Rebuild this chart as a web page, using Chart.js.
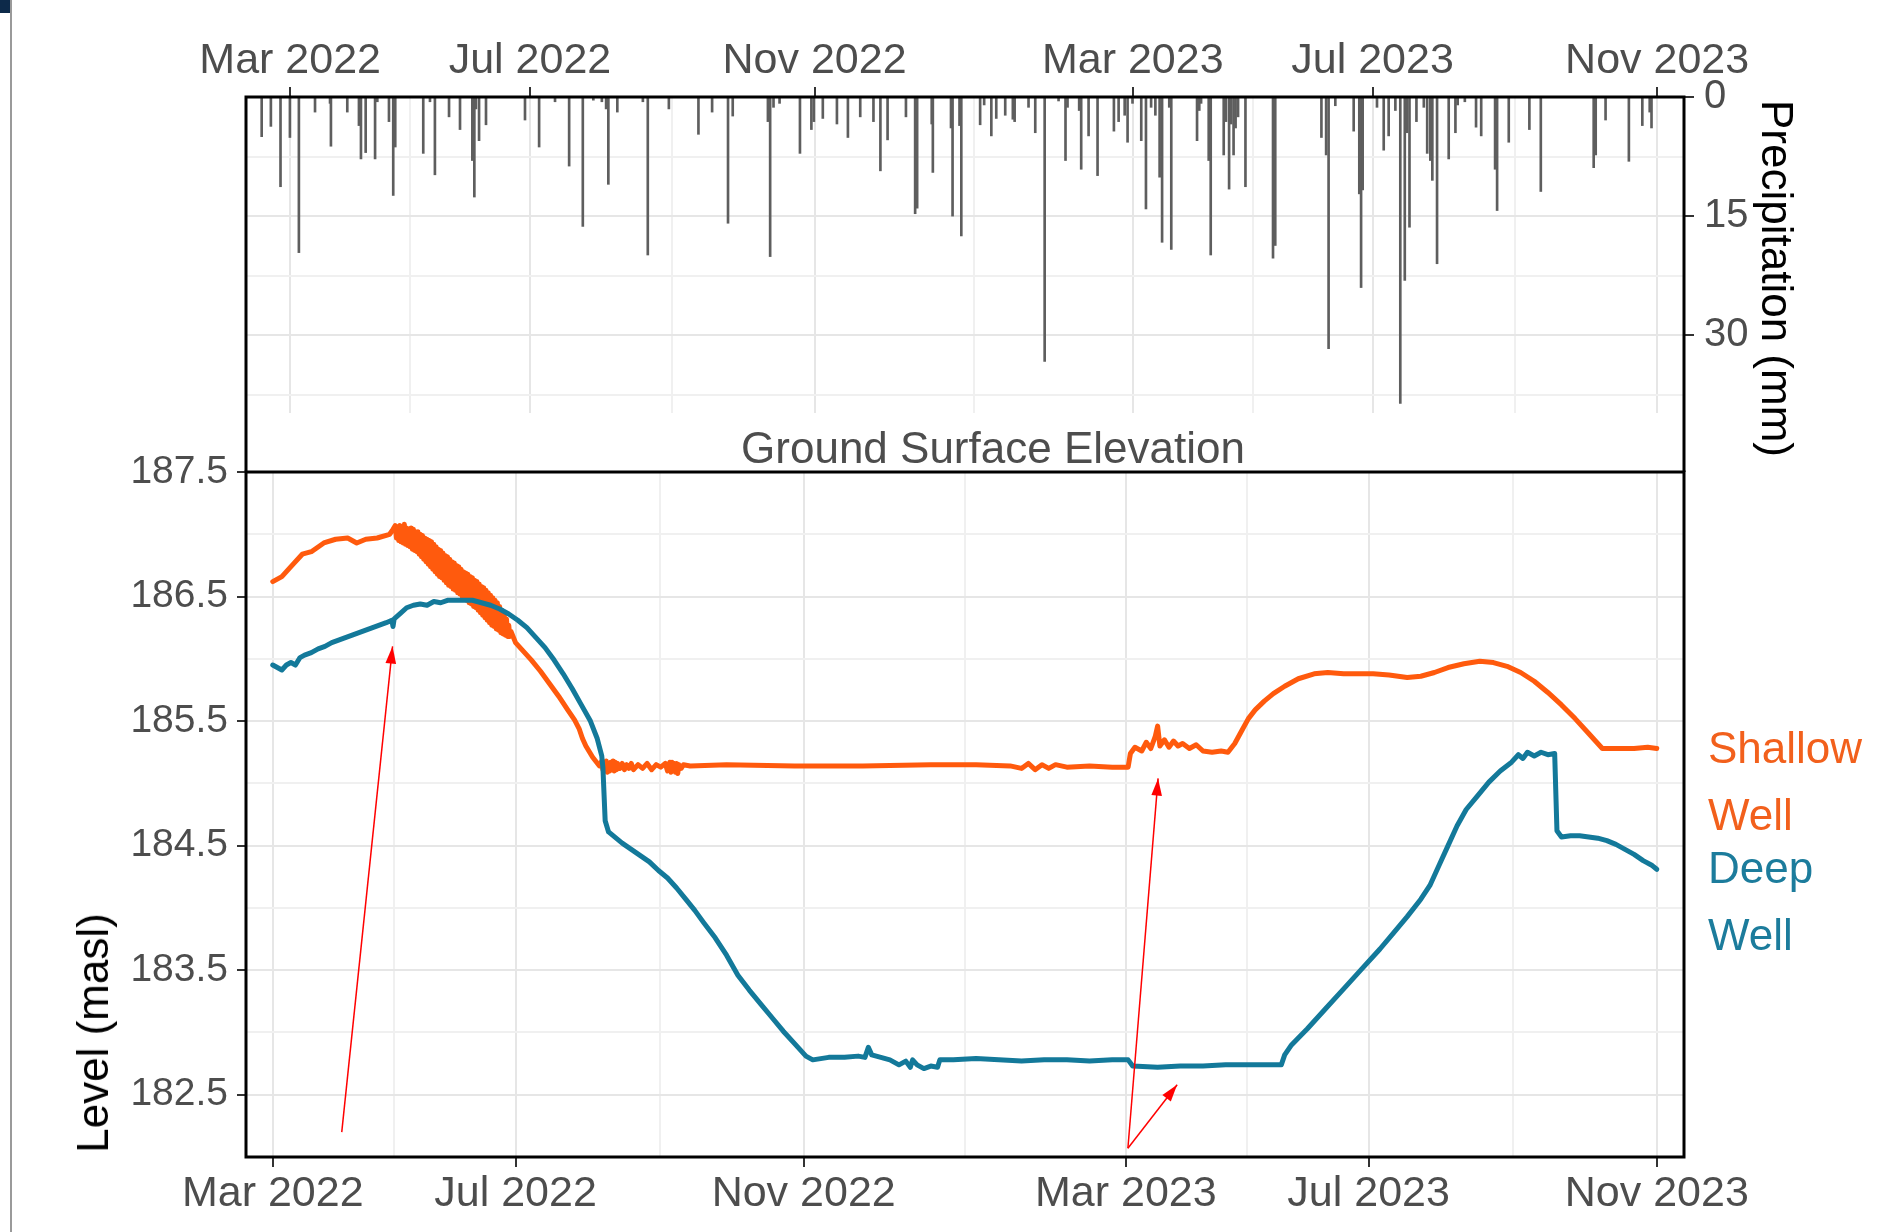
<!DOCTYPE html>
<html lang="en">
<head>
  <meta charset="UTF-8">
  <title>Precipitation and well levels</title>
  <script src="https://cdn.jsdelivr.net/npm/chart.js"></script>
  <style>
    body { margin: 0; background: #fff; }
    #page { position: relative; width: 1877px; height: 1232px; overflow: hidden; background: #fff;
            font-family: "Liberation Sans", Arial, sans-serif; }
    .box { position: absolute; left: 0; top: 0; width: 1877px; }
    .lbl { position: absolute; font-size: 44px; line-height: 44px; white-space: nowrap; }
  </style>
</head>
<body>
<div id="page">
  <div style="position:absolute;left:0;top:0;width:11px;height:13px;background:#0d2a4a"></div>
  <div style="position:absolute;left:10px;top:0;width:2px;height:1232px;background:#9a9a9a"></div>

  <div class="box" style="height:472px"><canvas id="rain"></canvas></div>
  <div class="box" style="height:1232px"><canvas id="level"></canvas></div>

  <div class="lbl" style="left:593px;width:800px;text-align:center;top:426px;color:#4d4d4d">Ground Surface Elevation</div>
  <div class="lbl" style="left:1755px;top:100px;writing-mode:vertical-rl;color:#000">Precipitation (mm)</div>
  <div class="lbl" style="left:93px;top:1033px;transform:translate(-50%,-50%) rotate(-90deg);color:#000">Level (masl)</div>

  <!-- series labels on the right -->
  <div class="lbl" style="left:1708px;top:726px;color:#f2601c">Shallow</div>
  <div class="lbl" style="left:1708px;top:793px;color:#f2601c">Well</div>
  <div class="lbl" style="left:1708px;top:846px;color:#1c7c9c">Deep</div>
  <div class="lbl" style="left:1708px;top:913px;color:#1c7c9c">Well</div>
</div>

<script>
  // x axis position units (the date axis of the figure is not evenly spaced)
  const xTickPos = [0, 107, 234, 376, 483, 610];
  const xTickLabels = ['Mar 2022', 'Jul 2022', 'Nov 2022', 'Mar 2023', 'Jul 2023', 'Nov 2023'];
  const xMinorPos = [53.5, 170.5, 305, 429.5, 546.5];

  const rainTicks = [0, 15, 30];
  const rainMinor = [7.5, 22.5, 37.5];
  const levelTicks = [182.5, 183.5, 184.5, 185.5, 186.5, 187.5];
  const levelMinor = [183, 184, 185, 186, 187];

  // daily precipitation [position, mm]
  const rain = [
    [-12.7, 5.0], [-8.6, 3.7], [-4.3, 11.3], [-0.1, 5.1], [3.9, 19.6], [11.1, 1.9], [17.8, 0.8], [18.2, 6.2],
    [25.5, 1.9], [30.7, 3.6], [31.6, 7.8], [33.7, 7.0], [37.9, 7.8], [38.9, 0.6], [44.1, 3.1], [46.0, 12.4],
    [46.9, 6.3], [59.4, 7.1], [62.4, 0.6], [64.6, 9.8], [70.9, 2.5], [75.8, 4.1], [81.3, 8.0], [82.2, 12.6],
    [82.9, 1.5], [84.3, 5.5], [87.4, 3.5], [104.8, 2.9], [111.1, 6.3], [118.2, 0.6], [124.5, 8.7], [130.6, 16.3],
    [135.3, 0.4], [139.1, 0.6], [141.0, 1.5], [142.0, 11.0], [146.0, 1.9], [157.4, 0.6], [159.6, 19.9], [169.0, 1.5],
    [182.2, 4.7], [188.3, 1.9], [195.4, 15.9], [197.5, 2.4], [213.2, 3.1], [214.2, 20.1], [215.7, 1.3], [218.4, 0.8],
    [227.5, 7.1], [232.6, 4.1], [233.7, 3.1], [237.7, 2.7], [244.0, 3.4], [248.9, 5.1], [254.4, 2.5], [260.3, 3.1],
    [263.4, 9.3], [266.6, 5.4], [274.8, 2.5], [278.9, 14.7], [279.8, 14.0], [286.3, 3.4], [286.8, 9.5], [294.9, 3.9],
    [295.6, 15.0], [298.7, 3.6], [299.5, 17.5], [307.9, 3.5], [309.7, 1.0], [312.9, 4.9], [315.1, 2.7], [319.1, 2.3],
    [322.5, 2.8], [323.3, 3.1], [329.5, 1.3], [332.5, 4.5], [336.7, 33.3], [342.9, 0.5], [346.0, 8.0], [346.9, 1.3],
    [352.1, 1.7], [353.0, 9.1], [356.3, 4.9], [360.3, 9.9], [367.6, 4.3], [369.7, 3.1], [372.4, 2.3], [373.7, 5.7],
    [375.9, 0.8], [379.8, 5.5], [381.9, 14.1], [384.2, 1.3], [386.1, 2.3], [388.0, 10.1], [389.1, 18.3], [392.3, 1.3],
    [393.2, 19.2], [404.7, 5.5], [405.7, 1.7], [406.5, 0.8], [409.9, 8.0], [410.8, 19.9], [416.6, 7.3], [417.6, 3.1],
    [419.0, 11.6], [419.9, 3.4], [421.0, 7.3], [421.9, 3.9], [423.0, 2.5], [426.3, 11.3], [438.6, 20.3], [439.6, 18.7],
    [460.2, 5.1], [462.3, 7.3], [463.4, 31.7], [466.4, 1.1], [474.6, 4.3], [477.1, 12.2], [477.9, 24.0], [478.6, 11.7],
    [485.0, 1.3], [488.0, 6.7], [490.2, 4.9], [493.2, 1.7], [495.4, 38.6], [497.4, 23.1], [498.4, 4.5], [499.5, 16.4],
    [502.6, 3.1], [505.9, 1.3], [507.4, 7.1], [508.8, 8.0], [509.7, 10.5], [511.8, 21.0], [517.0, 7.8], [520.0, 4.5],
    [521.0, 1.0], [524.2, 0.6], [529.2, 3.8], [531.5, 4.9], [537.7, 9.1], [538.6, 14.3], [543.8, 5.7], [553.0, 4.1],
    [558.1, 11.9], [581.7, 8.9], [582.6, 7.3], [587.0, 2.9], [597.4, 8.1], [603.4, 3.6], [606.7, 1.9], [607.5, 3.9]
  ];

  // shallow well level [position, masl]
  const shallowWell = [
    [0, 186.62], [4, 186.66], [9, 186.76], [13, 186.84], [17, 186.86], [22.5, 186.93], [27.7, 186.96], [33, 186.97],
    [37, 186.93], [41, 186.96], [46, 186.97], [51.5, 187.00], [53, 187.04],
    // noisy spell, spring 2022
    [54, 187.07], [54.5, 186.97], [55, 187.06], [55.5, 186.95], [56, 187.07], [56.5, 186.94], [57, 187.06], [57.5, 186.93],
    [58, 187.08], [58.5, 186.92], [59, 187.05], [59.5, 186.91], [60, 187.04], [60.5, 186.90], [61, 187.05], [61.5, 186.88],
    [62, 187.04], [62.5, 186.87], [63, 187.02], [63.5, 186.86], [64, 187.02], [64.5, 186.84], [65, 187.00], [65.5, 186.82],
    [66, 186.99], [66.5, 186.80], [67, 186.97], [67.5, 186.78], [68, 186.96], [68.5, 186.76], [69, 186.95], [69.5, 186.74],
    [70, 186.94], [70.5, 186.72], [71, 186.92], [71.5, 186.70], [72, 186.90], [72.5, 186.68], [73, 186.88], [73.5, 186.66],
    [74, 186.87], [74.5, 186.65], [75, 186.85], [75.5, 186.63], [76, 186.83], [76.5, 186.61], [77, 186.82], [77.5, 186.59],
    [78, 186.80], [78.5, 186.58], [79, 186.78], [79.5, 186.56], [80, 186.77], [80.5, 186.55], [81, 186.75], [81.5, 186.53],
    [82, 186.74], [82.5, 186.52], [83, 186.72], [83.5, 186.50], [84, 186.70], [84.5, 186.48], [85, 186.69], [85.5, 186.47],
    [86, 186.68], [86.5, 186.45], [87, 186.66], [87.5, 186.44], [88, 186.65], [88.5, 186.42], [89, 186.63], [89.5, 186.41],
    [90, 186.62], [90.5, 186.39], [91, 186.60], [91.5, 186.37], [92, 186.58], [92.5, 186.35], [93, 186.57], [93.5, 186.33],
    [94, 186.55], [94.5, 186.31], [95, 186.53], [95.5, 186.29], [96, 186.51], [96.5, 186.27], [97, 186.49], [97.5, 186.26],
    [98, 186.47], [98.5, 186.24], [99, 186.45], [99.5, 186.23], [100, 186.42], [100.5, 186.21], [101, 186.39], [101.5, 186.20],
    [102, 186.36], [102.5, 186.19], [103, 186.32], [103.5, 186.18], [104, 186.27], [104.5, 186.18], [105, 186.22],
    [107, 186.13], [110, 186.07], [114, 185.99], [118, 185.90], [122, 185.80], [126, 185.70], [130, 185.59],
    [133, 185.51], [135, 185.44], [136.5, 185.36], [138, 185.30], [141, 185.21], [144, 185.14],
    [145, 185.18], [145.5, 185.11], [146, 185.17], [146.5, 185.10], [147, 185.18], [147.5, 185.09], [148, 185.16],
    [148.5, 185.10], [149, 185.17], [149.5, 185.11], [150, 185.18], [150.5, 185.10], [151, 185.17], [151.5, 185.11],
    [152, 185.16], [153, 185.12], [154, 185.16], [155, 185.11], [156, 185.15], [157, 185.12], [158, 185.16],
    [159, 185.11], [161, 185.15], [163, 185.12], [165, 185.16], [167, 185.11], [169, 185.15], [171, 185.13],
    [173, 185.16], [174, 185.10], [175, 185.17], [175.5, 185.09], [176, 185.17], [176.5, 185.10], [177, 185.16],
    [177.5, 185.09], [178, 185.16], [178.5, 185.08], [179, 185.15], [180, 185.12], [181, 185.15], [184, 185.14],
    [200, 185.15], [230, 185.14], [260, 185.14], [290, 185.15], [310, 185.15], [325, 185.14], [330, 185.12],
    [333, 185.16], [336, 185.11], [339, 185.15], [342, 185.12], [345, 185.15], [350, 185.13], [360, 185.14],
    [370, 185.13], [377, 185.13],
    [378, 185.24], [380, 185.29], [383, 185.26], [385, 185.33], [387, 185.28], [389, 185.38], [390, 185.46],
    [391, 185.30], [393, 185.35], [395, 185.29], [397, 185.34], [399, 185.30], [401, 185.32], [404, 185.28],
    [407, 185.31], [410, 185.26], [414, 185.25], [418, 185.26], [421, 185.25], [424, 185.32], [427, 185.42],
    [430, 185.52], [433, 185.59], [437, 185.66], [441, 185.72], [446, 185.78], [452, 185.84], [459, 185.88],
    [465, 185.89], [472, 185.88], [478, 185.88], [485, 185.88], [492, 185.87], [500, 185.85], [506, 185.86],
    [512, 185.89], [518, 185.93], [525, 185.96], [532, 185.98], [538, 185.97], [544, 185.94], [550, 185.89],
    [556, 185.82], [562, 185.73], [568, 185.63], [574, 185.52], [580, 185.40], [586, 185.28], [592, 185.28],
    [600, 185.28], [606, 185.29], [610, 185.28]
  ];

  // deep well level [position, masl]
  const deepWell = [
    [0, 185.95], [2, 185.93], [4, 185.91], [6, 185.95], [8, 185.97], [10, 185.95], [12, 186.01], [14, 186.03],
    [17, 186.05], [20, 186.08], [23, 186.10], [26, 186.13], [29, 186.15], [32, 186.17], [35, 186.19], [38, 186.21],
    [41, 186.23], [44, 186.25], [47, 186.27], [50, 186.29], [52.5, 186.31], [53, 186.26], [53.5, 186.32],
    [56, 186.36], [59, 186.41], [62, 186.43], [65, 186.44], [68, 186.43], [71, 186.46], [74, 186.45], [77, 186.47],
    [80, 186.47], [84, 186.47], [88, 186.47], [92, 186.45], [96, 186.43], [100, 186.40], [104, 186.36],
    [108, 186.31], [112, 186.25], [116, 186.17], [120, 186.09], [124, 185.99], [128, 185.88], [132, 185.76],
    [136, 185.63], [140, 185.50], [143, 185.36], [145, 185.22], [145.5, 185.13], [146.5, 184.70], [148, 184.61],
    [150, 184.58], [154, 184.52], [158, 184.47], [162, 184.42], [166, 184.37], [170, 184.30], [174, 184.24],
    [178, 184.16], [182, 184.07], [186, 183.98], [190, 183.88], [195, 183.76], [200, 183.62], [205, 183.46],
    [210, 183.34], [215, 183.23], [220, 183.12], [225, 183.01], [230, 182.91], [235, 182.81], [238, 182.78],
    [245, 182.80], [252, 182.80], [258, 182.81], [261, 182.80], [262.5, 182.88], [264, 182.82], [268, 182.80],
    [272, 182.78], [276, 182.74], [279, 182.77], [281, 182.72], [282, 182.78], [284, 182.74], [287, 182.71],
    [290, 182.73], [293, 182.72], [294, 182.78], [300, 182.78], [310, 182.79], [320, 182.78], [330, 182.77],
    [340, 182.78], [350, 182.78], [360, 182.77], [370, 182.78], [377, 182.78], [379, 182.73], [390, 182.72],
    [400, 182.73], [410, 182.73], [420, 182.74], [430, 182.74], [440, 182.74], [444.5, 182.74], [446, 182.82],
    [449, 182.90], [456, 183.03], [464, 183.19], [472, 183.35], [480, 183.51], [488, 183.67], [494, 183.80],
    [500, 183.93], [506, 184.07], [510, 184.18], [514, 184.34], [518, 184.50], [522, 184.66], [526, 184.79],
    [531, 184.90], [536, 185.01], [541, 185.10], [546, 185.17], [549, 185.23], [551, 185.20], [553, 185.25],
    [556, 185.22], [559, 185.25], [562, 185.23], [565, 185.24], [566, 184.62], [568, 184.57], [572, 184.58],
    [576, 184.58], [580, 184.57], [584, 184.56], [588, 184.54], [592, 184.51], [596, 184.47], [600, 184.43],
    [604, 184.38], [608, 184.34], [610, 184.31]
  ];

  // red arrows drawn on the figure [from position, from level, to position, to level]
  const arrows = [
    [30.4, 182.20, 52.8, 186.10],
    [376.9, 182.07, 390.2, 185.04],
    [376.9, 182.07, 398.6, 182.58]
  ];

  Chart.defaults.font.family = '"Liberation Sans", Arial, sans-serif';
  Chart.defaults.color = '#4d4d4d';

  const MAJOR_GRID = '#e6e6e6';
  const MINOR_GRID = '#f0f0f0';

  // put the ticks exactly where the figure has them
  function fixedTicks(major, minor) {
    return scale => {
      scale.ticks = major.concat(minor).sort((a, b) => a - b).map(v => ({ value: v }));
    };
  }

  function isMajor(ctx, major) {
    return !!ctx.tick && major.includes(ctx.tick.value);
  }

  function gridFor(major, tickLength) {
    return {
      offset: false,
      color: ctx => isMajor(ctx, major) ? MAJOR_GRID : MINOR_GRID,
      lineWidth: 2,
      tickColor: ctx => isMajor(ctx, major) ? '#333333' : 'rgba(0,0,0,0)',
      tickWidth: 2,
      tickLength: tickLength
    };
  }

  const xLabel = value => {
    const i = xTickPos.indexOf(value);
    return i >= 0 ? xTickLabels[i] : '';
  };

  // black panel frame
  const framePlugin = {
    id: 'frame',
    afterDraw(chart, args, opts) {
      const { ctx, chartArea: a } = chart;
      ctx.save();
      ctx.strokeStyle = '#000';
      ctx.lineWidth = 3;
      ctx.beginPath();
      if (opts.open) {
        // top panel: sides run on down to the lower panel
        ctx.moveTo(a.left, chart.height);
        ctx.lineTo(a.left, a.top);
        ctx.lineTo(a.right, a.top);
        ctx.lineTo(a.right, chart.height);
      } else {
        ctx.rect(a.left, a.top, a.right - a.left, a.bottom - a.top);
      }
      ctx.stroke();
      ctx.restore();
    }
  };

  const arrowPlugin = {
    id: 'arrows',
    afterDraw(chart) {
      const { ctx, scales: { x, y } } = chart;
      ctx.save();
      ctx.strokeStyle = '#ff0000';
      ctx.fillStyle = '#ff0000';
      ctx.lineWidth = 1.5;
      arrows.forEach(([t0, v0, t1, v1]) => {
        const x0 = x.getPixelForValue(t0), y0 = y.getPixelForValue(v0);
        const x1 = x.getPixelForValue(t1), y1 = y.getPixelForValue(v1);
        const ang = Math.atan2(y1 - y0, x1 - x0);
        ctx.beginPath();
        ctx.moveTo(x0, y0);
        ctx.lineTo(x1, y1);
        ctx.stroke();
        ctx.beginPath();
        ctx.moveTo(x1, y1);
        ctx.lineTo(x1 - 18 * Math.cos(ang - 0.3), y1 - 18 * Math.sin(ang - 0.3));
        ctx.lineTo(x1 - 18 * Math.cos(ang + 0.3), y1 - 18 * Math.sin(ang + 0.3));
        ctx.closePath();
        ctx.fill();
      });
      ctx.restore();
    }
  };

  // precipitation panel (bars hang down from the top)
  new Chart(document.getElementById('rain'), {
    type: 'bar',
    data: {
      datasets: [{
        data: rain.map(([t, mm]) => ({ x: t, y: mm })),
        backgroundColor: '#5e5e5e',
        borderWidth: 0,
        barThickness: 2
      }]
    },
    options: {
      responsive: true,
      maintainAspectRatio: false,
      animation: false,
      layout: { padding: { left: 246, right: 0, top: 0, bottom: 59 } },
      plugins: { legend: { display: false }, tooltip: { enabled: false }, frame: { open: true } },
      scales: {
        x: {
          type: 'linear',
          position: 'top',
          offset: false,
          min: -19.7,
          max: 622,
          afterBuildTicks: fixedTicks(xTickPos, xMinorPos),
          afterFit: s => { s.height = 97; },
          grid: gridFor(xTickPos, 10),
          border: { display: false, color: '#000', width: 0 },
          ticks: { callback: xLabel, autoSkip: false, maxRotation: 0, minRotation: 0, padding: 0,
                   font: { size: 43 }, color: '#4d4d4d' }
        },
        y: {
          position: 'right',
          reverse: true,
          min: 0,
          max: 39.8,
          afterBuildTicks: fixedTicks(rainTicks, rainMinor),
          afterFit: s => { s.width = 193; },
          grid: gridFor(rainTicks, 10),
          border: { display: false, color: '#000', width: 0 },
          ticks: { callback: v => rainTicks.includes(v) ? String(v) : '', padding: 10,
                   font: { size: 40 }, color: '#4d4d4d' }
        }
      }
    },
    plugins: [framePlugin]
  });

  // groundwater level panel
  new Chart(document.getElementById('level'), {
    type: 'line',
    data: {
      datasets: [
        {
          label: 'Deep Well',
          data: deepWell.map(([t, v]) => ({ x: t, y: v })),
          borderColor: '#13799a',
          borderWidth: 5,
          pointRadius: 0,
          tension: 0,
          borderJoinStyle: 'round',
          borderCapStyle: 'round'
        },
        {
          label: 'Shallow Well',
          data: shallowWell.map(([t, v]) => ({ x: t, y: v })),
          borderColor: '#ff5a0d',
          borderWidth: 5,
          pointRadius: 0,
          tension: 0,
          borderJoinStyle: 'round',
          borderCapStyle: 'round'
        }
      ]
    },
    options: {
      responsive: true,
      maintainAspectRatio: false,
      animation: false,
      layout: { padding: { left: 0, right: 193, top: 472, bottom: 0 } },
      plugins: { legend: { display: false }, tooltip: { enabled: false }, frame: { open: false } },
      scales: {
        x: {
          type: 'linear',
          min: -11.8,
          max: 622,
          afterBuildTicks: fixedTicks(xTickPos, xMinorPos),
          afterFit: s => { s.height = 75; },
          grid: gridFor(xTickPos, 10),
          border: { display: false, color: '#000', width: 0 },
          ticks: { callback: xLabel, autoSkip: false, maxRotation: 0, minRotation: 0, padding: 1,
                   font: { size: 43 }, color: '#4d4d4d' }
        },
        y: {
          min: 182,
          max: 187.5,
          afterBuildTicks: fixedTicks(levelTicks, levelMinor),
          afterFit: s => { s.width = 246; },
          grid: gridFor(levelTicks, 9),
          border: { display: false, color: '#000', width: 0 },
          ticks: { callback: v => levelTicks.includes(v) ? v.toFixed(1) : '', padding: 9,
                   font: { size: 39 }, color: '#4d4d4d' }
        }
      }
    },
    plugins: [framePlugin, arrowPlugin]
  });
</script>
</body>
</html>
